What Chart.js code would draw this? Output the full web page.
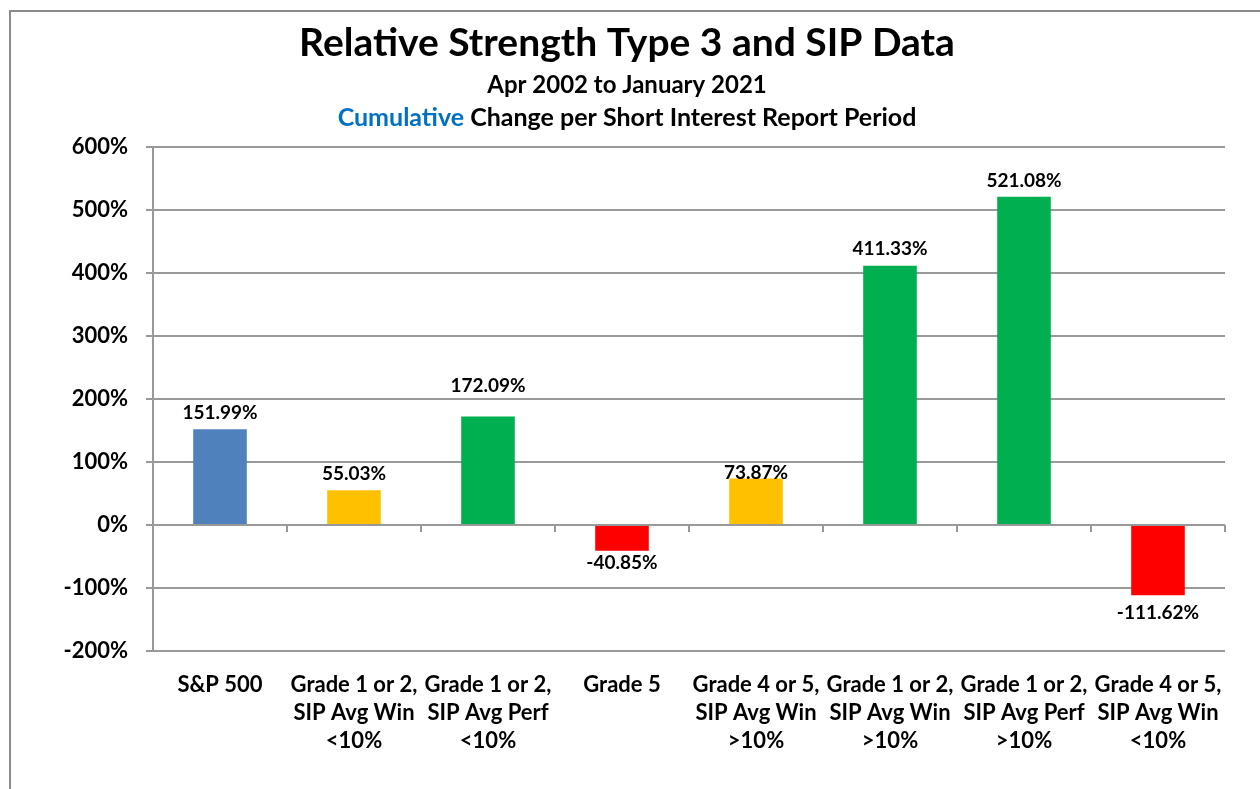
<!DOCTYPE html>
<html>
<head>
<meta charset="utf-8">
<title>Relative Strength Type 3 and SIP Data</title>
<script src="https://cdn.jsdelivr.net/npm/chart.js@4.4.1/dist/chart.umd.min.js"></script>
<style>
  html, body { margin: 0; padding: 0; background: #fff; }
  #wrap { width: 1260px; height: 789px; }
</style>
</head>
<body>
<div id="wrap"><canvas id="myChart" width="1260" height="789"></canvas></div>
<script>
const FONT = 'Lato, "Open Sans", sans-serif'

// categories and values (cumulative % change)
const categories = [
    ['S&P 500'],
    ['Grade 1 or 2,', 'SIP Avg Win', '<10%'],
    ['Grade 1 or 2,', 'SIP Avg Perf', '<10%'],
    ['Grade 5'],
    ['Grade 4 or 5,', 'SIP Avg Win', '>10%'],
    ['Grade 1 or 2,', 'SIP Avg Win', '>10%'],
    ['Grade 1 or 2,', 'SIP Avg Perf', '>10%'],
    ['Grade 4 or 5,', 'SIP Avg Win', '<10%']
]
const values = [151.99, 55.03, 172.09, -40.85, 73.87, 411.33, 521.08, -111.62]
const barColors = ['#4F81BD', '#FFC000', '#00B050', '#FF0000', '#FFC000', '#00B050', '#00B050', '#FF0000']
const yTicks = [-200, -100, 0, 100, 200, 300, 400, 500, 600]

const titleText = 'Relative Strength Type 3 and SIP Data'
const subtitleText = 'Apr 2002 to January 2021'
const thirdLine = [['Cumulative', '#0070C0'], [' Change per Short Interest Report Period', '#000']]

// frame + titles drawn on the canvas
const headerPlugin = {
    id: 'header',
    beforeDraw(chart) {
        const c = chart.ctx
        c.save()
        c.fillStyle = '#fff'
        c.fillRect(0, 0, chart.width, chart.height)
        c.strokeStyle = '#8c8c8c'
        c.lineWidth = 2
        c.strokeRect(10, 11, chart.width + 20, chart.height + 20)
        c.restore()
    },
    afterDraw(chart) {
        const c = chart.ctx
        const cx = 627
        c.save()
        c.textBaseline = 'middle'
        c.textAlign = 'center'
        c.fillStyle = '#000'
        c.font = 'bold 39px ' + FONT
        c.fillText(titleText, cx, 43)
        c.font = 'bold 24px ' + FONT
        c.fillText(subtitleText, cx, 85)
        c.font = 'bold 25px ' + FONT
        // two-colour third line
        const w = thirdLine.reduce((s, p) => s + c.measureText(p[0]).width, 0)
        let x = cx - w / 2
        c.textAlign = 'left'
        thirdLine.forEach(p => {
            c.fillStyle = p[1]
            c.fillText(p[0], x, 118)
            x += c.measureText(p[0]).width
        })
        c.restore()
    }
}

// small tick marks on the zero line between categories
const zeroTicksPlugin = {
    id: 'zeroTicks',
    afterDatasetsDraw(chart) {
        const xs = chart.scales.x, ys = chart.scales.y
        const y0 = ys.getPixelForValue(0)
        const step = (xs.right - xs.left) / categories.length
        const c = chart.ctx
        c.save()
        c.strokeStyle = '#999'
        c.lineWidth = 2
        c.beginPath()
        c.moveTo(xs.left, y0)
        c.lineTo(xs.right, y0)
        for (let i = 1; i <= categories.length; i++) {
            const x = xs.left + step * i
            c.moveTo(x, y0)
            c.lineTo(x, y0 + 7)
        }
        c.stroke()
        c.restore()
    }
}

// value labels above / below bars (a few were nudged by hand in the original)
const labelGap = [16, 16, 31, 12, 6, 17, 16, 18]
const valueLabelPlugin = {
    id: 'valueLabels',
    afterDatasetsDraw(chart) {
        const c = chart.ctx
        const meta = chart.getDatasetMeta(0)
        c.save()
        c.font = 'bold 19px ' + FONT
        c.fillStyle = '#000'
        c.textAlign = 'center'
        c.textBaseline = 'middle'
        meta.data.forEach((bar, i) => {
            const v = values[i]
            const y = v >= 0 ? bar.y - labelGap[i] : bar.y + labelGap[i]
            c.fillText(v.toFixed(2) + '%', bar.x, y)
        })
        c.restore()
    }
}

const ctx = document.getElementById('myChart').getContext('2d')
const myChart = new Chart(ctx, {
    type: 'bar',
    data: {
        labels: categories,
        datasets: [{
            data: values,
            backgroundColor: barColors,
            borderWidth: 0,
            barPercentage: 0.4,
            categoryPercentage: 1
        }]
    },
    options: {
        responsive: false,
        animation: false,
        layout: {
            padding: { top: 147, right: 35, left: 0, bottom: 0 }
        },
        scales: {
            x: {
                grid: { display: false, drawTicks: false },
                border: { display: false },
                ticks: {
                    color: '#000',
                    padding: 20,
                    font: { family: FONT, size: 22, weight: 'bold', lineHeight: 1.28 },
                    maxRotation: 0,
                    autoSkip: false
                },
                afterFit(scale) { scale.height = 138 }
            },
            y: {
                min: -200,
                max: 600,
                afterBuildTicks(scale) {
                    scale.ticks = yTicks.map(v => ({ value: v }))
                },
                grid: {
                    color: '#999',
                    lineWidth: 2,
                    tickLength: 7
                },
                border: { color: '#999', width: 2 },
                ticks: {
                    color: '#000',
                    padding: 18,
                    font: { family: FONT, size: 22, weight: 'bold' },
                    callback: v => v + '%'
                },
                afterFit(scale) { scale.width = 153 }
            }
        },
        plugins: {
            legend: { display: false },
            title: { display: false },
            tooltip: { enabled: false }
        }
    },
    plugins: [headerPlugin, zeroTicksPlugin, valueLabelPlugin]
})
</script>
</body>
</html>
